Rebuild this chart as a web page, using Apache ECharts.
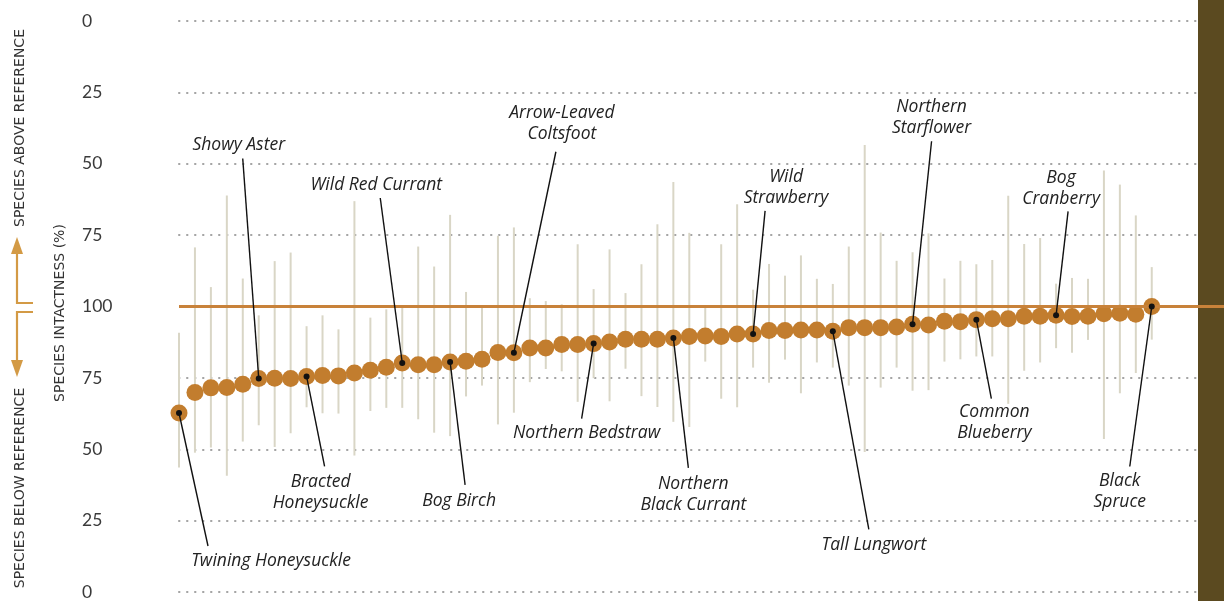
<!DOCTYPE html>
<html>
<head>
<meta charset="utf-8">
<script src="https://cdn.jsdelivr.net/npm/echarts@6/dist/echarts.min.js"></script>
<style>
  html, body { margin: 0; padding: 0; background: #ffffff; }
  #chart { width: 1224px; height: 601px; }
</style>
</head>
<body>
<div id="chart"></div>
<script>
// Species intactness per species, sorted ascending (median, low and high of the range)
const intactness = [62.7, 69.9, 71.5, 71.6, 72.8, 74.8, 74.9, 74.8, 75.5, 75.8,
  75.7, 76.7, 77.7, 78.7, 80.2, 79.6, 79.6, 80.6, 80.8, 81.5,
  83.9, 83.8, 85.5, 85.5, 86.7, 86.7, 87.0, 87.6, 88.5, 88.5,
  88.5, 89.0, 89.5, 89.7, 89.5, 90.4, 90.4, 91.6, 91.6, 91.8,
  91.8, 91.3, 92.6, 92.6, 92.6, 92.8, 93.8, 93.5, 94.8, 94.7,
  95.4, 95.7, 95.7, 96.6, 96.6, 96.9, 96.5, 96.6, 97.5, 97.6,
  97.3, 100];
const rangeHigh = [90.8, 120.7, 106.8, 138.9, 109.8, 96.9, 115.9, 118.9, 93.1, 96.9,
  92.0, 136.9, 96.1, 99.0, 100.1, 121.0, 114.0, 132.1, 105.1, 100.0,
  124.8, 127.7, 102.9, 101.9, 100.8, 121.8, 106.1, 120.0, 104.7, 114.8,
  128.8, 143.6, 125.8, 100.1, 121.8, 135.8, 105.9, 114.9, 110.8, 117.9,
  109.7, 107.9, 121.0, 156.6, 125.9, 116.0, 119.0, 125.6, 109.8, 116.0,
  114.8, 116.3, 138.8, 121.9, 124.0, 108.0, 110.0, 109.7, 147.6, 142.7,
  131.9, 113.8];
const rangeLow = [43.6, 48.8, 50.6, 40.7, 52.7, 58.4, 50.8, 55.6, 64.7, 62.6,
  62.5, 47.8, 63.4, 64.5, 64.5, 60.5, 55.8, 54.6, 68.5, 72.3,
  58.7, 62.8, 73.5, 78.1, 77.3, 66.6, 74.9, 66.8, 78.2, 68.6,
  64.8, 59.6, 57.8, 80.7, 67.7, 64.7, 78.6, 73.3, 81.4, 69.6,
  80.4, 78.6, 72.3, 49.0, 71.6, 78.6, 70.5, 70.7, 80.7, 81.5,
  82.5, 82.5, 65.9, 77.5, 80.4, 85.4, 83.8, 88.3, 53.6, 69.6,
  76.7, 88.4];

// Named species (position in the sorted list and label text)
const namedIndex = [0, 5, 8, 14, 17, 21, 26, 31, 36, 41, 46, 50, 55, 61];
const namedLabel = ['Twining Honeysuckle', 'Showy Aster', 'Bracted\nHoneysuckle',
  'Wild Red Currant', 'Bog Birch', 'Arrow-Leaved\nColtsfoot', 'Northern Bedstraw',
  'Northern\nBlack Currant', 'Wild\nStrawberry', 'Tall Lungwort',
  'Northern\nStarflower', 'Common\nBlueberry', 'Bog\nCranberry', 'Black\nSpruce'];

// Axis: 0..100 below the reference, 100..0 above it (scale runs 0..200)
const yTicks = [0, 25, 50, 75, 100, 125, 150, 175, 200];
const reference = 100;

// Callout layout: leader end and label centre, in pixels relative to the point
const calloutOffset = [
  [29, 133, 92, 148], [-16, -220, -20, -233], [18, 90, 14, 116],
  [-22, -165, -26, -178], [15, 123, 9, 139], [42, -201, 48, -229],
  [-12, 75, -7, 89], [15, 130, 20, 157], [12, -123, 33, -146],
  [36, 198, 41, 214], [19, -183, 19, -207], [15, 79, 18, 103],
  [12, -104, 5, -127], [-22, 160, -32, 185]
];

const GOLD = '#c27d2e';
const ARROW = '#d39a45';
const SIDE_FONT = '14px "DejaVu Sans"';

const rangeData = intactness.map((v, i) => [i, rangeLow[i], rangeHigh[i]]);
const pointData = intactness.map((v, i) => [i, v]);
const calloutData = namedIndex.map((idx, k) => [idx, intactness[idx], k]);

const chart = echarts.init(document.getElementById('chart'), null, { renderer: 'canvas' });

const gridColors = yTicks.map(t => t === reference ? 'rgba(0,0,0,0)' : '#a2a2a2');

chart.setOption({
  animation: false,
  backgroundColor: '#ffffff',
  grid: { left: 179, right: 0, top: 21, bottom: 6, containLabel: false },
  xAxis: {
    type: 'value', min: 0, max: 65.53,
    show: false
  },
  yAxis: {
    type: 'value', min: 0, max: 200, interval: 25,
    axisLine: { show: false },
    axisTick: { show: false },
    splitLine: {
      show: true,
      lineStyle: { color: gridColors, width: 2, type: [0.5, 7.5], cap: 'round' }
    },
    axisLabel: {
      margin: 97, align: 'left',
      color: '#3a3a3a', fontSize: 17.5, fontFamily: 'Lato',
      formatter: v => String(v <= reference ? v : 200 - v)
    }
  },
  graphic: [
    { type: 'rect', z: 1, shape: { x: 1198, y: 0, width: 26, height: 601 }, style: { fill: '#5b4a20' } },
    { type: 'text', rotation: Math.PI / 2, x: 20, y: 128,
      style: { text: 'SPECIES ABOVE REFERENCE', align: 'center', verticalAlign: 'middle',
        font: SIDE_FONT, fill: '#333' } },
    { type: 'text', rotation: Math.PI / 2, x: 20, y: 488,
      style: { text: 'SPECIES BELOW REFERENCE', align: 'center', verticalAlign: 'middle',
        font: SIDE_FONT, fill: '#333' } },
    { type: 'text', rotation: Math.PI / 2, x: 60, y: 313,
      style: { text: 'SPECIES INTACTNESS (%)', align: 'center', verticalAlign: 'middle',
        font: SIDE_FONT, fill: '#333' } },
    { type: 'polyline', shape: { points: [[33, 303], [17, 303], [17, 252]] },
      style: { stroke: ARROW, lineWidth: 2.2, fill: null } },
    { type: 'polygon', shape: { points: [[11, 254], [23, 254], [17, 237]] }, style: { fill: ARROW } },
    { type: 'polyline', shape: { points: [[33, 312], [17, 312], [17, 362]] },
      style: { stroke: ARROW, lineWidth: 2.2, fill: null } },
    { type: 'polygon', shape: { points: [[11, 360], [23, 360], [17, 377]] }, style: { fill: ARROW } }
  ],
  series: [
    {
      // range of each species
      type: 'custom',
      z: 2,
      data: rangeData,
      renderItem: (params, api) => {
        const a = api.coord([api.value(0), api.value(1)]);
        const b = api.coord([api.value(0), api.value(2)]);
        return {
          type: 'line',
          shape: { x1: a[0], y1: a[1], x2: b[0], y2: b[1] },
          style: { stroke: '#d9d6c6', lineWidth: 2 }
        };
      },
      silent: true
    },
    {
      type: 'scatter',
      z: 3,
      data: pointData,
      symbol: 'circle',
      symbolSize: 17,
      itemStyle: { color: GOLD, opacity: 1 },
      silent: true,
      markLine: {
        silent: true,
        symbol: 'none',
        label: { show: false },
        lineStyle: { color: '#c8823a', width: 3, type: 'solid' },
        data: [{ yAxis: reference }],
        z: 5
      }
    },
    {
      // callouts for named species
      type: 'custom',
      z: 6,
      data: calloutData,
      renderItem: (params, api) => {
        const p = api.coord([api.value(0), api.value(1)]);
        const o = calloutOffset[api.value(2)];
        const text = namedLabel[api.value(2)];
        return {
          type: 'group',
          children: [
            { type: 'line', shape: { x1: p[0], y1: p[1], x2: p[0] + o[0], y2: p[1] + o[1] },
              style: { stroke: '#111', lineWidth: 1.4 } },
            { type: 'circle', shape: { cx: p[0], cy: p[1], r: 3 }, style: { fill: '#111' } },
            { type: 'text', x: p[0] + o[2], y: p[1] + o[3],
              style: { text: text, align: 'center', verticalAlign: 'middle',
                font: 'italic 17.5px "Open Sans"', lineHeight: 21, fill: '#222' } }
          ]
        };
      },
      silent: true
    }
  ]
});
</script>
</body>
</html>
